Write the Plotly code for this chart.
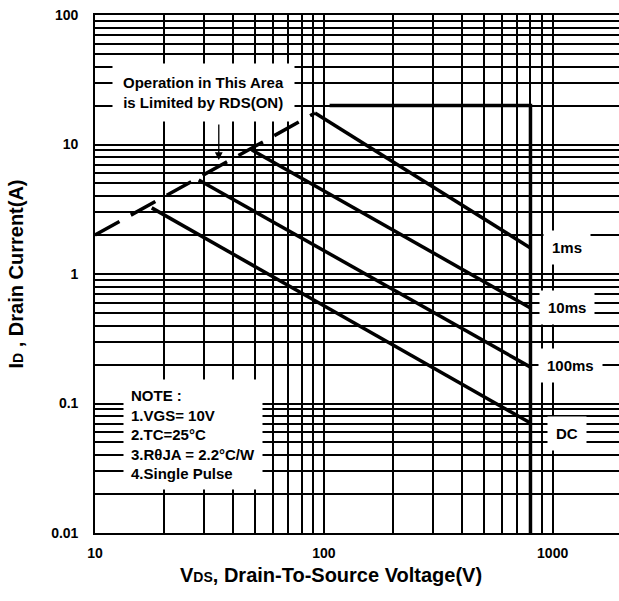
import plotly.graph_objects as go

# ---- data (log-log SOA chart) ----
rds_v = [10, 91.5]
rds_i = [2.0, 17.5]

limit_v = [106, 800, 800]
limit_i = [20, 20, 0.01]

ms1_v = [91.5, 800]
ms1_i = [17.5, 1.59]

ms10_v = [48.5, 800]
ms10_i = [9.07, 0.546]

ms100_v = [28.4, 800]
ms100_i = [5.32, 0.191]

dc_v = [17.7, 800]
dc_i = [3.24, 0.0706]

x_tickvals = [10, 20, 30, 40, 50, 60, 70, 80, 90,
              100, 200, 300, 400, 500, 600, 700, 800, 900, 1000]
x_ticktext = ["10"] + [""] * 8 + ["100"] + [""] * 8 + ["1000"]

y_tickvals = [m * d for d in [0.01, 0.1, 1, 10] for m in range(1, 10)] + [100]
y_labels = {0.01: "0.01", 0.1: "0.1", 1: "1", 10: "10", 100: "100"}
y_ticktext = [y_labels.get(v, "") for v in y_tickvals]

note_lines = ["NOTE :", "1.VGS= 10V", "2.TC=25°C", "3.RθJA = 2.2°C/W", "4.Single Pulse"]
rds_lines = ["Operation in This Area", "is Limited by RDS(ON)"]
curve_labels = ["1ms", "10ms", "100ms", "DC"]
curve_label_pos = [(3.063, 0.201), (3.061, -0.255), (3.076, -0.703), (3.061, -1.228)]

FONT = "Liberation Sans, Arial, sans-serif"
LW = 3.5

fig = go.Figure()

fig.add_trace(go.Scatter(x=rds_v, y=rds_i, mode="lines",
                         line=dict(color="black", width=LW, dash="28px,13px"),
                         hoverinfo="skip", showlegend=False))
for xs, ys in [(limit_v, limit_i), (ms1_v, ms1_i), (ms10_v, ms10_i),
               (ms100_v, ms100_i), (dc_v, dc_i)]:
    fig.add_trace(go.Scatter(x=xs, y=ys, mode="lines",
                             line=dict(color="black", width=LW),
                             hoverinfo="skip", showlegend=False))

annots = []
annots.append(dict(x=1.472, y=1.405, xref="x", yref="y",
                   text="<br>".join(rds_lines), showarrow=False,
                   bgcolor="white", borderpad=10,
                   font=dict(family=FONT, size=15, color="black", weight="bold")))
annots.append(dict(x=1.541, y=0.880, xref="x", yref="y", text="",
                   showarrow=True, ax=0, ay=-37, arrowhead=2, arrowsize=1.2,
                   arrowwidth=1.3, arrowcolor="black"))
annots.append(dict(x=1.428, y=-1.243, xref="x", yref="y",
                   text="<br>".join(note_lines), showarrow=False, align="left",
                   bgcolor="white", borderpad=7,
                   font=dict(family=FONT, size=15, color="black", weight="bold")))
for lab, (lx, ly) in zip(curve_labels, curve_label_pos):
    annots.append(dict(x=lx, y=ly, xref="x", yref="y", text=lab, showarrow=False,
                       bgcolor="white", borderpad=8,
                       font=dict(family=FONT, size=15, color="black", weight="bold")))
annots.append(dict(x=0.450, y=-0.081, xref="paper", yref="paper",
                   xanchor="center", yanchor="middle", showarrow=False,
                   text="V<span style='font-size:14px'>DS</span>, Drain-To-Source Voltage(V)",
                   font=dict(family=FONT, size=20, color="black", weight="bold")))

fig.update_layout(
    width=619, height=601,
    margin=dict(l=95, r=0, t=15, b=68),
    paper_bgcolor="white", plot_bgcolor="white",
    font=dict(family=FONT, color="black"),
    annotations=annots,
    xaxis=dict(type="log", range=[1, 3.29], tickvals=x_tickvals, ticktext=x_ticktext,
               showgrid=True, gridcolor="black", gridwidth=1.6,
               showline=True, linecolor="black", linewidth=1.6, mirror=True,
               ticks="", ticklabelstandoff=6, zeroline=False,
               tickfont=dict(family=FONT, size=14, color="black", weight="bold")),
    yaxis=dict(type="log", range=[-2, 2], tickvals=y_tickvals, ticktext=y_ticktext,
               showgrid=True, gridcolor="black", gridwidth=1.6,
               showline=True, linecolor="black", linewidth=1.6,
               ticks="", ticklabelstandoff=12, zeroline=False,
               tickfont=dict(family=FONT, size=14, color="black", weight="bold"),
               title=dict(text="I<span style='font-size:14px'>D</span> , Drain Current(A)",
                          standoff=22,
                          font=dict(family=FONT, size=20, color="black", weight="bold"))),
)

fig.write_html("out.html")
